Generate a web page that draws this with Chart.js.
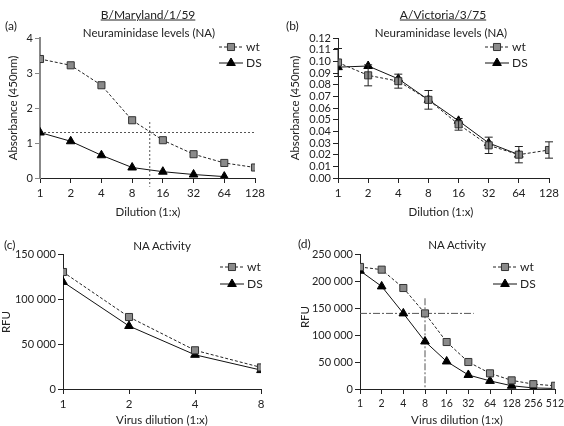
<!DOCTYPE html>
<html>
<head>
<meta charset="utf-8">
<script src="https://cdn.jsdelivr.net/npm/chart.js@4.4.1/dist/chart.umd.min.js"></script>
<style>
  html, body { margin: 0; padding: 0; background: #fff; }
  #wrap { position: relative; width: 564px; height: 426px; overflow: hidden; font-family: Lato, sans-serif; color: #222; }
  canvas { position: absolute; }
  .t { position: absolute; transform: translate(-50%, -50%); white-space: nowrap; font-size: 11.5px; }
  .l { position: absolute; transform: translate(0, -50%); white-space: nowrap; font-size: 12px; }
  .rot { position: absolute; transform: translate(-50%, -50%) rotate(-90deg); white-space: nowrap; font-size: 11.5px; }
  .hd { font-size: 12px; }
  u { text-decoration: underline; }
</style>
</head>
<body>
<div id="wrap">
  <canvas id="chartA" width="282" height="220" style="left:0;top:0"></canvas>
  <canvas id="chartB" width="282" height="220" style="left:282px;top:0"></canvas>
  <canvas id="chartC" width="282" height="213" style="left:0;top:213px"></canvas>
  <canvas id="chartD" width="292" height="213" style="left:282px;top:213px"></canvas>

  <div class="t hd" style="left:148px;top:14px"><u>B/Maryland/1/59</u></div>
  <div class="t hd" style="left:443px;top:14px"><u>A/Victoria/3/75</u></div>
  <div class="l" style="left:5px;top:25px">(a)</div>
  <div class="l" style="left:286px;top:25px">(b)</div>
  <div class="l" style="left:4px;top:244px">(c)</div>
  <div class="l" style="left:298px;top:243px">(d)</div>
  <div class="t" style="left:149px;top:32px">Neuraminidase levels (NA)</div>
  <div class="t" style="left:441px;top:32px">Neuraminidase levels (NA)</div>
  <div class="t" style="left:162px;top:245px">NA Activity</div>
  <div class="t" style="left:457px;top:244px">NA Activity</div>
  <div class="rot" style="left:12px;top:108px">Absorbance (450nm)</div>
  <div class="rot" style="left:294px;top:108px">Absorbance (450nm)</div>
  <div class="rot" style="left:5px;top:322px">RFU</div>
  <div class="rot" style="left:304px;top:317px">RFU</div>
  <div class="t" style="left:148px;top:211px">Dilution (1:x)</div>
  <div class="t" style="left:441px;top:211px">Dilution (1:x)</div>
  <div class="t" style="left:162px;top:419px">Virus dilution (1:x)</div>
  <div class="t" style="left:457px;top:419px">Virus dilution (1:x)</div>
</div>

<script>
// panel (a) B/Maryland/1/59, NA levels
const dilA = [1, 2, 4, 8, 16, 32, 64, 128]
const wtA = [3.4, 3.22, 2.65, 1.65, 1.08, 0.68, 0.43, 0.3]
const dsA = [1.3, 1.05, 0.65, 0.3, 0.18, 0.1, 0.04]
const cutA_h = [[1, 1.3], [128, 1.3]]
const cutA_v = [[11.9, 1.6], [11.9, -0.25]]

// panel (b) A/Victoria/3/75, NA levels
const dilB = [1, 2, 4, 8, 16, 32, 64, 128]
const wtB = [0.099, 0.088, 0.083, 0.067, 0.046, 0.028, 0.020, 0.024]
const wtBErr = [0.012, 0.009, 0.006, 0.008, 0.005, 0.007, 0.007, 0.007]
const dsB = [0.095, 0.096, 0.085, 0.067, 0.049, 0.030, 0.020]

// panel (c) NA activity
const dilC = [1, 2, 4, 8]
const wtC = [130000, 80000, 43000, 24000]
const dsC = [119000, 70000, 38000, 21000]

// panel (d) NA activity
const dilD = [1, 2, 4, 8, 16, 32, 64, 128, 256, 512]
const wtD = [226000, 221000, 187000, 140000, 87000, 50000, 29000, 16000, 9000, 6000]
const dsD = [219000, 190000, 140000, 88000, 51000, 26000, 15000, 6000, 2000, 1000]
const cutD_h = [[1, 140000], [38, 140000]]
const cutD_v = [[8, 168000], [8, 0]]

Chart.defaults.font.family = "Lato"
Chart.defaults.font.size = 11
Chart.defaults.color = "#222"

function pts(xs, ys) {
    return ys.map((y, i) => ({x: xs[i], y: y}))
}

function wtSet(xs, ys) {
    return {
        label: "wt", legendRow: 0,
        data: pts(xs, ys),
        borderColor: "#222", borderWidth: 1, borderDash: [3, 2],
        pointStyle: "rect", pointRadius: 5,
        pointBackgroundColor: "#8a8a8a", pointBorderColor: "#333", pointBorderWidth: 1
    }
}

function dsSet(xs, ys) {
    return {
        label: "DS", legendRow: 1,
        data: pts(xs, ys),
        borderColor: "#111", borderWidth: 1,
        pointStyle: "triangle", pointRadius: 5,
        pointBackgroundColor: "#000", pointBorderColor: "#000", pointBorderWidth: 1
    }
}

function refSet(pairs, dash) {
    return {
        data: pairs.map(p => ({x: p[0], y: p[1]})),
        borderColor: "#555", borderWidth: 1, borderDash: dash,
        pointRadius: 0, clip: false
    }
}

function drawMarker(ctx, style, x, y, r) {
    ctx.beginPath()
    if (style == "rect") {
        var s = r * Math.SQRT1_2
        ctx.rect(x - s, y - s, 2 * s, 2 * s)
    } else {
        ctx.moveTo(x, y - r)
        ctx.lineTo(x + r * 0.866, y + r * 0.5)
        ctx.lineTo(x - r * 0.866, y + r * 0.5)
        ctx.closePath()
    }
    ctx.fill()
    ctx.stroke()
}

const miniLegend = {
    id: "miniLegend",
    afterDraw(chart, args, opts) {
        const ctx = chart.ctx
        chart.data.datasets.forEach(ds => {
            if (ds.legendRow === undefined) return
            const y = opts.y + ds.legendRow * opts.dy
            ctx.save()
            ctx.strokeStyle = ds.borderColor
            ctx.lineWidth = ds.borderWidth
            ctx.setLineDash(ds.borderDash || [])
            ctx.beginPath()
            ctx.moveTo(opts.x, y)
            ctx.lineTo(opts.x + opts.len, y)
            ctx.stroke()
            ctx.setLineDash([])
            ctx.fillStyle = ds.pointBackgroundColor
            ctx.strokeStyle = ds.pointBorderColor
            drawMarker(ctx, ds.pointStyle, opts.x + opts.len / 2, y, ds.pointRadius)
            ctx.fillStyle = "#222"
            ctx.font = "12px Lato"
            ctx.textBaseline = "middle"
            ctx.fillText(ds.label, opts.x + opts.len + 3, y)
            ctx.restore()
        })
    }
}

const errorBars = {
    id: "errorBars",
    afterDatasetsDraw(chart, args, opts) {
        if (!opts.err) return
        const ctx = chart.ctx
        const meta = chart.getDatasetMeta(opts.dataset)
        const yScale = chart.scales.y
        const vals = chart.data.datasets[opts.dataset].data
        ctx.save()
        ctx.strokeStyle = "#222"
        ctx.lineWidth = 1
        meta.data.forEach((p, i) => {
            const top = yScale.getPixelForValue(vals[i].y + opts.err[i])
            const bot = yScale.getPixelForValue(vals[i].y - opts.err[i])
            ctx.beginPath()
            ctx.moveTo(p.x, top); ctx.lineTo(p.x, bot)
            ctx.moveTo(p.x - 4, top); ctx.lineTo(p.x + 4, top)
            ctx.moveTo(p.x - 4, bot); ctx.lineTo(p.x + 4, bot)
            ctx.stroke()
        })
        ctx.restore()
    }
}

function makeChart(id, cfg) {
    const axisColor = cfg.axisColor || "#222"
    return new Chart(document.getElementById(id), {
        type: "line",
        data: {datasets: cfg.datasets},
        plugins: [miniLegend, errorBars],
        options: {
            responsive: false,
            animation: false,
            devicePixelRatio: 1,
            layout: {padding: cfg.padding},
            plugins: {
                legend: {display: false},
                tooltip: {enabled: false},
                miniLegend: cfg.legend,
                errorBars: cfg.errorBars || {}
            },
            scales: {
                x: {
                    type: "logarithmic",
                    min: cfg.xs[0], max: cfg.xs[cfg.xs.length - 1],
                    afterBuildTicks: s => { s.ticks = cfg.xs.map(v => ({value: v})) },
                    afterFit: s => { s.height = cfg.xHeight },
                    ticks: {autoSkip: false, maxRotation: 0, padding: 3, font: {size: cfg.xFont || 11.5}, callback: v => String(v)},
                    grid: {drawOnChartArea: false, tickLength: 5, color: "#222"},
                    border: {color: "#222", width: 1}
                },
                y: {
                    min: cfg.yMin, max: cfg.yMax,
                    ticks: {stepSize: cfg.yStep, autoSkip: false, padding: 2, callback: cfg.yFmt},
                    afterFit: s => { s.width = cfg.yWidth },
                    grid: {drawOnChartArea: false, tickLength: 5, color: axisColor},
                    border: {color: axisColor, width: cfg.axisWidth || 1}
                }
            }
        }
    })
}

const spaced = v => v === 0 ? "0" : String(v).replace(/\B(?=(\d{3})+(?!\d))/g, " ")

makeChart("chartA", {
    xs: dilA, yMin: 0, yMax: 4, yStep: 1, yFmt: v => String(v),
    padding: {left: 0, right: 27, top: 38, bottom: 0}, yWidth: 40, xHeight: 42,
    axisColor: "#888", axisWidth: 2,
    legend: {x: 219, y: 47, dy: 16, len: 24},
    datasets: [wtSet(dilA, wtA), dsSet(dilA, dsA), refSet(cutA_h, [2, 2]), refSet(cutA_v, [2, 2])]
})

makeChart("chartB", {
    xs: dilB, yMin: 0, yMax: 0.12, yStep: 0.01, yFmt: v => v.toFixed(2),
    padding: {left: 0, right: 15, top: 38, bottom: 0}, yWidth: 56, xHeight: 42,
    legend: {x: 203, y: 47, dy: 16, len: 24},
    errorBars: {dataset: 0, err: wtBErr},
    datasets: [wtSet(dilB, wtB), dsSet(dilB, dsB)]
})

makeChart("chartC", {
    xs: dilC, yMin: 0, yMax: 150000, yStep: 50000, yFmt: spaced,
    padding: {left: 0, right: 21, top: 41, bottom: 0}, yWidth: 63, xHeight: 37,
    legend: {x: 220, y: 54, dy: 17, len: 24},
    datasets: [wtSet(dilC, wtC), dsSet(dilC, dsC)]
})

makeChart("chartD", {
    xs: dilD, yMin: 0, yMax: 250000, yStep: 50000, yFmt: spaced,
    padding: {left: 0, right: 19, top: 41, bottom: 0}, yWidth: 78, xHeight: 37, xFont: 10.5,
    legend: {x: 211, y: 54, dy: 17, len: 24},
    datasets: [wtSet(dilD, wtD), dsSet(dilD, dsD), refSet(cutD_h, [7, 2, 2, 2]), refSet(cutD_v, [7, 2, 2, 2])]
})
</script>
</body>
</html>
